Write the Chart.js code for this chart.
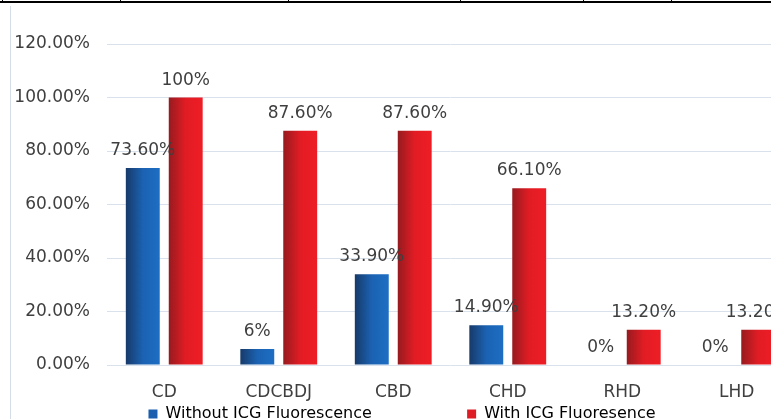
<!DOCTYPE html>
<html>
<head>
<meta charset="utf-8">
<script src="https://cdn.jsdelivr.net/npm/chart.js@4.4.1/dist/chart.umd.min.js"></script>
<style>
  html, body { margin: 0; padding: 0; background: #fff; overflow: hidden; }
  #wrap { position: absolute; left: 0; top: 0; width: 800px; height: 440px; }
  .topline { position: absolute; left: 0; top: 1px; width: 771px; height: 2px; background: #000; }
  .tick { position: absolute; top: 0; width: 1px; height: 2px; background: #000; }
  .leftline { position: absolute; left: 10px; top: 6px; width: 1px; height: 413px; background: #d5dde8; }
</style>
</head>
<body>
<div id="wrap"><canvas id="chart"></canvas></div>
<div class="leftline"></div>
<div class="topline"></div>
<div class="tick" style="left:2px"></div>
<div class="tick" style="left:120px"></div>
<div class="tick" style="left:288px"></div>
<div class="tick" style="left:460px"></div>
<div class="tick" style="left:583px"></div>
<div class="tick" style="left:671px"></div>
<script>
// data
const categories = ['CD', 'CDCBDJ', 'CBD', 'CHD', 'RHD', 'LHD'];
const withoutICG = [73.6, 6, 33.9, 14.9, 0, 0];
const withICG = [100, 87.6, 87.6, 66.1, 13.2, 13.2];
const seriesNames = ['Without ICG Fluorescence', 'With ICG Fluoresence'];
const yTicks = [0, 20, 40, 60, 80, 100, 120];

const CAT_PCT = 0.75;
const BAR_PCT = 0.79;
const textColor = '#3f3f3f';
const font = 'DejaVu Sans';

const blueStops = [[0, '#173a69'], [0.5, '#1b62b2'], [1, '#1d6ec4']];
const redStops = [[0, '#961b1f'], [0.5, '#e21c24'], [1, '#ee1d25']];

function fmt(v) {
    return Number.isInteger(v) ? v + '%' : v.toFixed(2) + '%';
}

// horizontal gradient across each bar, worked out from the x scale
function barGradient(stops) {
    return (c) => {
        const chart = c.chart;
        const xs = chart.scales.x;
        if (!xs || c.dataIndex === undefined) return stops[1][1];
        const catW = xs.width / categories.length;
        const slot = catW * CAT_PCT / 2;
        const w = slot * BAR_PCT;
        const left = xs.getPixelForValue(c.dataIndex) - catW * CAT_PCT / 2 + slot * c.datasetIndex + (slot - w) / 2;
        const g = chart.ctx.createLinearGradient(left, 0, left + w, 0);
        stops.forEach(s => g.addColorStop(s[0], s[1]));
        return g;
    };
}

// value labels above the bars
const valueLabels = {
    id: 'valueLabels',
    afterDatasetsDraw(chart) {
        const ctx = chart.ctx;
        ctx.save();
        ctx.font = '17px "' + font + '"';
        ctx.fillStyle = textColor;
        ctx.textAlign = 'center';
        ctx.textBaseline = 'alphabetic';
        chart.data.datasets.forEach((ds, i) => {
            chart.getDatasetMeta(i).data.forEach((bar, j) => {
                ctx.fillText(fmt(ds.data[j]), bar.x, bar.y - 13);
            });
        });
        ctx.restore();
    }
};

new Chart(document.getElementById('chart'), {
    type: 'bar',
    data: {
        labels: categories,
        datasets: [
            { label: seriesNames[0], data: withoutICG, backgroundColor: barGradient(blueStops),
              categoryPercentage: CAT_PCT, barPercentage: BAR_PCT },
            { label: seriesNames[1], data: withICG, backgroundColor: barGradient(redStops),
              categoryPercentage: CAT_PCT, barPercentage: BAR_PCT }
        ]
    },
    options: {
        responsive: true,
        maintainAspectRatio: false,
        animation: false,
        layout: { padding: { left: 10, right: 6, top: 44, bottom: 8 } },
        scales: {
            x: {
                grid: { display: false, drawTicks: false },
                border: { display: false },
                ticks: { color: textColor, font: { family: font, size: 17 }, padding: 17 },
                afterFit: (s) => { s.height = 41; }
            },
            y: {
                min: yTicks[0],
                max: yTicks[yTicks.length - 1],
                afterBuildTicks: (s) => { s.ticks = yTicks.map(v => ({ value: v })); },
                grid: { color: '#d9e2ec', drawTicks: false },
                border: { display: false },
                ticks: { color: textColor, font: { family: font, size: 17 }, padding: 17,
                         callback: (v) => v.toFixed(2) + '%' },
                afterFit: (s) => { s.width = 97; }
            }
        },
        plugins: {
            tooltip: { enabled: false },
            legend: {
                position: 'bottom',
                labels: {
                    color: textColor,
                    font: { family: font, size: 16 },
                    boxWidth: 9,
                    boxHeight: 9,
                    padding: 0,
                    generateLabels: () => [
                        // Excel leaves a wide gap after the first entry
                        { text: seriesNames[0] + '\u2003\u2003\u2003\u2003\u2003   ', fillStyle: '#1b5fae', lineWidth: 0, strokeStyle: '#1b5fae', datasetIndex: 0 },
                        { text: seriesNames[1], fillStyle: '#de1c24', lineWidth: 0, strokeStyle: '#de1c24', datasetIndex: 1 }
                    ]
                }
            }
        }
    },
    plugins: [valueLabels]
});
</script>
</body>
</html>
